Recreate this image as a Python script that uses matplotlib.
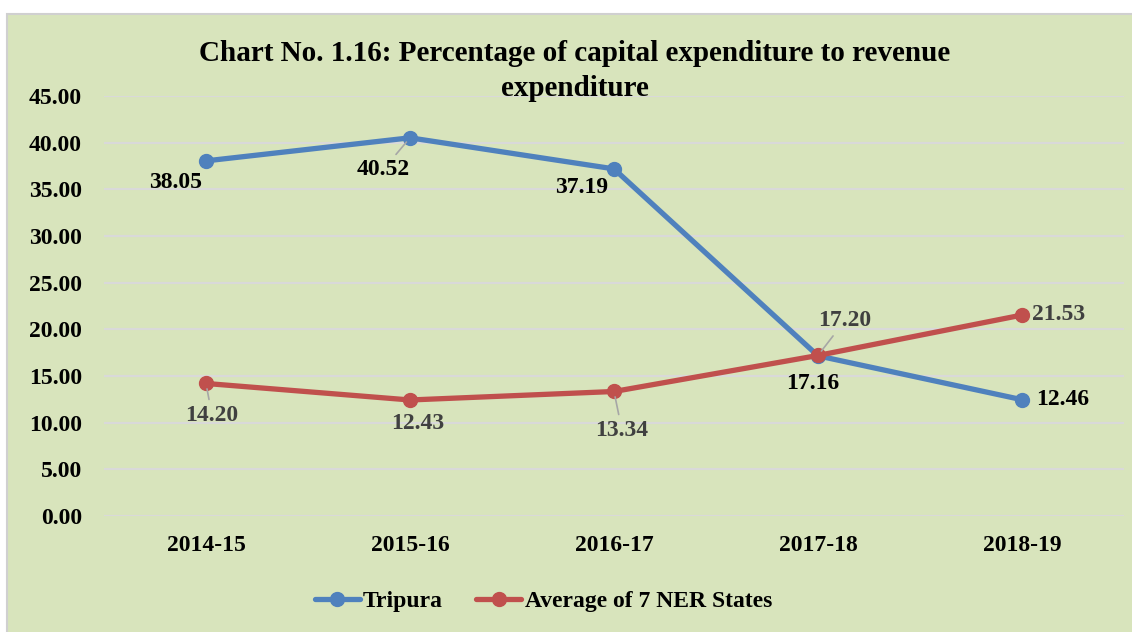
import matplotlib.pyplot as plt
from matplotlib.patches import Rectangle
import numpy as np

plt.rcParams['font.family'] = ['Liberation Serif', 'DejaVu Serif']
plt.rcParams['font.weight'] = 'bold'

years = ['2014-15', '2015-16', '2016-17', '2017-18', '2018-19']
tripura = [38.05, 40.52, 37.19, 17.16, 12.46]
ner_avg = [14.20, 12.43, 13.34, 17.20, 21.53]

# label offsets in pixels (dx, dy), and whether a leader line is drawn
trip_off = [(-30, -22), (-27, -32), (-32, -19), (-5, -28), (41, 0)]
trip_lead = [False, True, False, False, False]
ner_off = [(6, -32), (8, -24), (8, -39), (27, 35), (37, 1)]
ner_lead = [True, False, True, True, False]

blue = '#4f81bd'
red = '#c0504d'
bg = '#d8e4bc'

fig = plt.figure(figsize=(11.32, 6.32), dpi=100, facecolor='white')
fig.patches.append(Rectangle((7 / 1132, -0.01), 1.0, 1 - 14 / 632 + 0.01,
                             transform=fig.transFigure, facecolor=bg,
                             edgecolor='#d0d0d0', linewidth=1.5, zorder=-10))

ax = fig.add_axes([104 / 1132, 1 - 516 / 632, 1020 / 1132, 420 / 632])
ax.set_facecolor('none')
x = np.arange(len(years))

ax.plot(x, tripura, color=blue, lw=3.8, marker='o', ms=10, label='Tripura',
        solid_capstyle='round', zorder=3)
ax.plot(x, ner_avg, color=red, lw=3.8, marker='o', ms=10,
        label='Average of 7 NER States', solid_capstyle='round', zorder=3)

for xi, v, (dx, dy), lead in zip(x, tripura, trip_off, trip_lead):
    ax.annotate(f'{v:.2f}', (xi, v), xytext=(dx, dy), textcoords='offset pixels',
                ha='center', va='center', fontsize=17, fontweight='bold', color='black',
                arrowprops=dict(arrowstyle='-', color='#a6a6a6', lw=1.2,
                                shrinkA=2, shrinkB=4) if lead else None, zorder=4)
for xi, v, (dx, dy), lead in zip(x, ner_avg, ner_off, ner_lead):
    ax.annotate(f'{v:.2f}', (xi, v), xytext=(dx, dy), textcoords='offset pixels',
                ha='center', va='center', fontsize=17, fontweight='bold', color='#404040',
                arrowprops=dict(arrowstyle='-', color='#a6a6a6', lw=1.2,
                                shrinkA=2, shrinkB=4) if lead else None, zorder=4)

ax.set_xlim(-0.5, len(years) - 0.5)
ax.set_ylim(0, 45)
ax.set_yticks(np.arange(0, 46, 5))
ax.set_yticklabels([f'{t:.2f}' for t in np.arange(0, 46, 5)])
ax.set_xticks(x)
ax.set_xticklabels(years)
ax.tick_params(axis='both', length=0, labelsize=17)
ax.tick_params(axis='y', pad=16)
ax.tick_params(axis='x', pad=14)
for lab in ax.get_xticklabels() + ax.get_yticklabels():
    lab.set_fontweight('bold')
ax.grid(axis='y', color='#d9d9d9', lw=1.5, zorder=1)
for s in ax.spines.values():
    s.set_visible(False)

fig.text(0.508, 1 - 71 / 632, 'Chart No. 1.16: Percentage of capital expenditure to revenue\nexpenditure',
         ha='center', va='center', fontsize=21, fontweight='bold', linespacing=1.35)

leg = fig.legend(loc='center', bbox_to_anchor=(0.480, 1 - 601 / 632), ncol=2, frameon=False,
                 prop={'size': 17, 'weight': 'bold'}, handlelength=1.9, columnspacing=1.4,
                 handletextpad=0.15)

fig.savefig('out.png', dpi=100, facecolor='white')
